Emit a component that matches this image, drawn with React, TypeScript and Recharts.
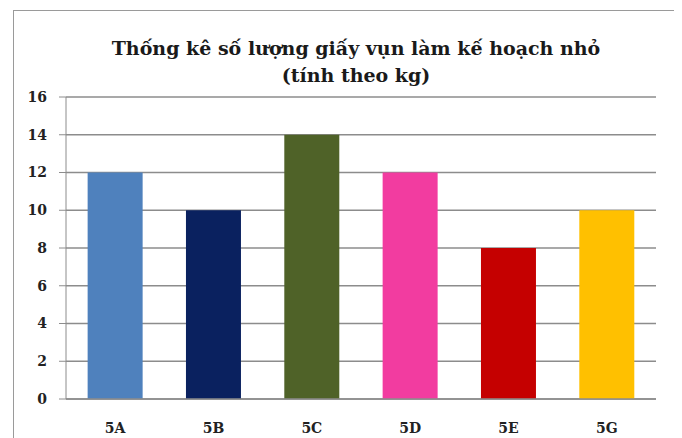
import { BarChart, Bar, XAxis, YAxis, CartesianGrid, Cell } from "recharts"

const classes = ["5A", "5B", "5C", "5D", "5E", "5G"]
const kg = [12, 10, 14, 12, 8, 10]
const barColors = ["#4F81BD", "#0A215F", "#4F6228", "#F23CA0", "#C50000", "#FFC000"]
const yTicks = [0, 2, 4, 6, 8, 10, 12, 14, 16]

const data = classes.map((c, i) => ({ name: c, value: kg[i] }))

const FONT = "DejaVu Serif, Liberation Serif, serif"
const TICK = { fill: "#222", fontSize: 14, fontWeight: 700, fontFamily: FONT }

export default function App() {
  return (
    <div
      style={{
        position: "relative",
        marginLeft: 5,
        marginTop: 2,
        width: 668,
        height: 440,
        border: "1px solid #9a9a9a",
        borderBottom: "none",
        background: "#fff",
        fontFamily: FONT,
      }}
    >
      <div
        style={{
          position: "absolute",
          left: 0,
          top: 24,
          width: 684,
          textAlign: "center",
          fontSize: 19,
          fontWeight: 700,
          lineHeight: "27px",
          color: "#1a1a1a",
        }}
      >
        Thống kê số lượng giấy vụn làm kế hoạch nhỏ
        <br />
        (tính theo kg)
      </div>
      <BarChart
        width={662}
        height={430}
        data={data}
        margin={{ top: 86, right: 20, bottom: 12, left: 0 }}
        barCategoryGap="22%"
      >
        <CartesianGrid vertical={false} stroke="#8c8c8c" strokeWidth={1.5} />
        <XAxis
          dataKey="name"
          tick={TICK}
          tickLine={false}
          tickMargin={18}
          height={30}
          axisLine={{ stroke: "#8c8c8c", strokeWidth: 1.5 }}
        />
        <YAxis
          domain={[0, 16]}
          ticks={yTicks}
          width={52}
          tick={TICK}
          tickSize={7}
          tickMargin={12}
          tickLine={{ stroke: "#8c8c8c" }}
          axisLine={{ stroke: "#8c8c8c" }}
          interval={0}
        />
        <Bar dataKey="value" isAnimationActive={false}>
          {data.map((d, i) => (
            <Cell key={d.name} fill={barColors[i]} />
          ))}
        </Bar>
      </BarChart>
    </div>
  )
}
